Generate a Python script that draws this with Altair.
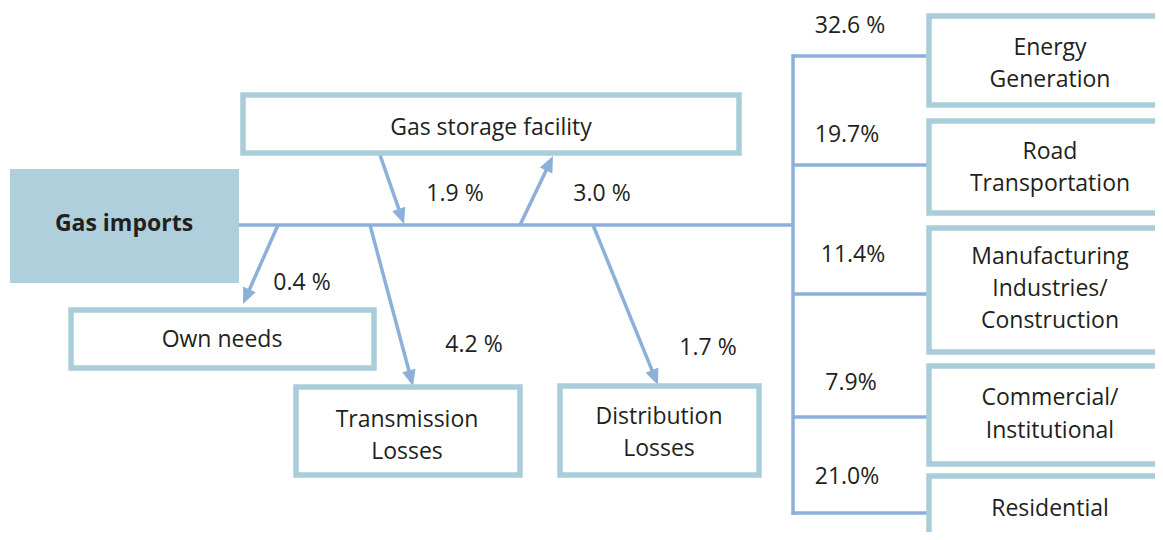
import math
import altair as alt
import pandas as pd

# ---------------- layout (page pixel coordinates) ----------------
W, H = 1147, 524
X0, X1 = 8, 1155
Y0, Y1 = 8, 532

BOX = "#a9cdd9"
FILL = "#aecfdb"
LINE = "#8db0da"
TEXT = "#231f20"
FONT = "Open Sans"
FS = 23

# source box (filled)
src_x1 = [10]
src_x2 = [239]
src_y1 = [169]
src_y2 = [283]

# outlined boxes (stroke centre lines)
box_names = ["Gas storage facility", "Own needs", "Transmission Losses", "Distribution Losses",
             "Energy Generation", "Road Transportation", "Manufacturing Industries/Construction",
             "Commercial/Institutional", "Residential"]
box_x1 = [243, 71, 296, 560, 929, 929, 929, 929, 929]
box_x2 = [739, 374, 520, 759, 1190, 1190, 1190, 1190, 1190]
box_y1 = [95, 310, 387, 386, 16, 121, 228, 366, 476]
box_y2 = [153, 368, 475, 475, 105, 213, 352, 464, 590]

# plain connector lines
line_x1 = [239, 793, 793, 793, 793, 793, 793]
line_y1 = [225, 54, 56, 165, 294, 417, 513]
line_x2 = [793, 793, 929, 929, 929, 929, 929]
line_y2 = [225, 515, 56, 165, 294, 417, 513]

# arrows (start -> tip)
arrow_x1 = [380, 520, 278, 370, 593]
arrow_y1 = [155, 225, 225, 225, 225]
arrow_x2 = [404, 553, 243, 413, 658]
arrow_y2 = [224, 156, 304, 386, 385]

# flow share labels
pct_text = ["1.9 %", "3.0 %", "0.4 %", "4.2 %", "1.7 %",
            "32.6 %", "19.7%", "11.4%", "7.9%", "21.0%"]
pct_x = [455, 602, 302, 474, 708, 850, 847, 853, 851, 847]
pct_y = [194, 194, 283, 345, 348, 26, 135, 255, 383, 477]

# box labels (one row per text line)
lab_text = ["Gas storage facility", "Own needs", "Transmission", "Losses", "Distribution", "Losses",
            "Energy", "Generation", "Road", "Transportation", "Manufacturing", "Industries/",
            "Construction", "Commercial/", "Institutional", "Residential"]
lab_x = [491, 222, 407, 407, 659, 659, 1050, 1050, 1050, 1050, 1050, 1050, 1050, 1050, 1050, 1050]
lab_y = [128, 340, 420, 452, 417, 449, 48, 80, 152, 184, 257, 289, 321, 398, 431, 509]

# ---------------- data frames ----------------
src = pd.DataFrame({"x": src_x1, "x2": src_x2, "y": src_y1, "y2": src_y2, "t": ["Gas imports"],
                    "cx": [124], "cy": [224]})
boxes = pd.DataFrame({"name": box_names, "x": box_x1, "x2": box_x2, "y": box_y1, "y2": box_y2})
lines = pd.DataFrame({"x": line_x1, "y": line_y1, "x2": line_x2, "y2": line_y2})

rows = []
for a, b, c, d in zip(arrow_x1, arrow_y1, arrow_x2, arrow_y2):
    dx, dy = c - a, d - b
    L = math.hypot(dx, dy)
    ux, uy = dx / L, dy / L
    ang = math.degrees(math.atan2(dx, -dy)) % 360
    rows.append({"x": a, "y": b, "x2": c - 8 * ux, "y2": d - 8 * uy, "tx": c, "ty": d, "ang": ang})
arrows = pd.DataFrame(rows)

pcts = pd.DataFrame({"t": pct_text, "x": pct_x, "y": pct_y})
labs = pd.DataFrame({"t": lab_text, "x": lab_x, "y": lab_y})

xs = alt.Scale(domain=[X0, X1], nice=False, zero=False)
ys = alt.Scale(domain=[Y0, Y1], nice=False, zero=False, reverse=True)

def X(f):
    return alt.X(f"{f}:Q", scale=xs, axis=None)

def Y(f):
    return alt.Y(f"{f}:Q", scale=ys, axis=None)

src_layer = alt.Chart(src).mark_rect(fill=FILL, clip=True).encode(
    x=X("x"), x2="x2", y=Y("y"), y2="y2")

line_layer = alt.Chart(lines).mark_rule(color=LINE, strokeWidth=3.5, clip=True).encode(
    x=X("x"), y=Y("y"), x2="x2", y2="y2")

shaft_layer = alt.Chart(arrows).mark_rule(color=LINE, strokeWidth=3.5).encode(
    x=X("x"), y=Y("y"), x2="x2", y2="y2")

head_layer = alt.Chart(arrows).mark_point(
    shape="M0,0L0.95,2.2L-0.95,2.2Z", filled=True, color=LINE, opacity=1, size=211, strokeWidth=0
).encode(x=X("tx"), y=Y("ty"), angle=alt.Angle("ang:Q", scale=None))

box_layer = alt.Chart(boxes).mark_rect(
    fill="white", stroke=BOX, strokeWidth=5.5, clip=True
).encode(x=X("x"), x2="x2", y=Y("y"), y2="y2")

src_text = alt.Chart(src).mark_text(
    font=FONT, fontSize=FS, fontWeight="bold", color=TEXT, align="center", baseline="middle"
).encode(x=X("cx"), y=Y("cy"), text="t:N")

pct_layer = alt.Chart(pcts).mark_text(
    font=FONT, fontSize=FS, color=TEXT, align="center", baseline="middle"
).encode(x=X("x"), y=Y("y"), text="t:N")

lab_layer = alt.Chart(labs).mark_text(
    font=FONT, fontSize=FS, color=TEXT, align="center", baseline="middle"
).encode(x=X("x"), y=Y("y"), text="t:N")

chart = alt.layer(
    src_layer, line_layer, shaft_layer, head_layer, box_layer, src_text, pct_layer, lab_layer
).properties(
    width=W, height=H, autosize=alt.AutoSizeParams(type="none"), padding=0
).configure_view(stroke=None)

chart.save("out.html", embed_options={"renderer": "svg", "actions": False})
